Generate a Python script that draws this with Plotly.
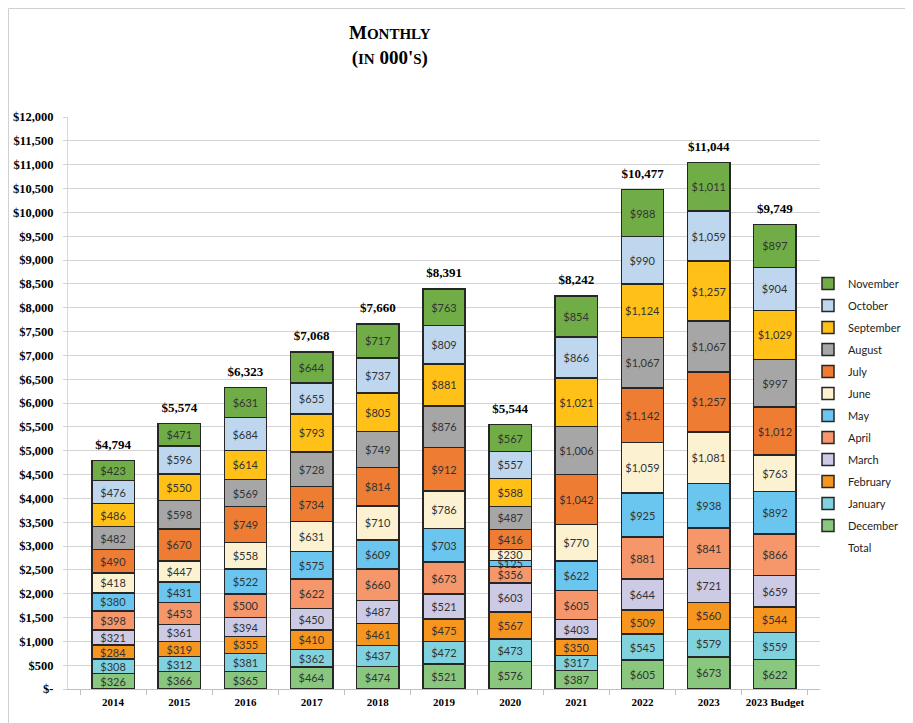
import plotly.graph_objects as go

years = ["2014", "2015", "2016", "2017", "2018", "2019", "2020", "2021", "2022", "2023", "2023 Budget"]

december = [326, 366, 365, 464, 474, 521, 576, 387, 605, 673, 622]
january = [308, 312, 381, 362, 437, 472, 473, 317, 545, 579, 559]
february = [284, 319, 355, 410, 461, 475, 567, 350, 509, 560, 544]
march = [321, 361, 394, 450, 487, 521, 603, 403, 644, 721, 659]
april = [398, 453, 500, 622, 660, 673, 356, 605, 881, 841, 866]
may = [380, 431, 522, 575, 609, 703, 125, 622, 925, 938, 892]
june = [418, 447, 558, 631, 710, 786, 230, 770, 1059, 1081, 763]
july = [490, 670, 749, 734, 814, 912, 416, 1042, 1142, 1257, 1012]
august = [482, 598, 569, 728, 749, 876, 487, 1006, 1067, 1067, 997]
september = [486, 550, 614, 793, 805, 881, 588, 1021, 1124, 1257, 1029]
october = [476, 596, 684, 655, 737, 809, 557, 866, 990, 1059, 904]
november = [423, 471, 631, 644, 717, 763, 567, 854, 988, 1011, 897]
totals = [4794, 5574, 6323, 7068, 7660, 8391, 5544, 8242, 10477, 11044, 9749]

y_ticks = list(range(0, 12001, 500))

# stacking order bottom -> top
series = [
  ("December", december, "#88C77D"),
  ("January", january, "#80D2DF"),
  ("February", february, "#F7961E"),
  ("March", march, "#CDCAE6"),
  ("April", april, "#F5976A"),
  ("May", may, "#6AC6EF"),
  ("June", june, "#FCF2D2"),
  ("July", july, "#EE7D33"),
  ("August", august, "#A6A6A6"),
  ("September", september, "#FFC018"),
  ("October", october, "#BED7EE"),
  ("November", november, "#70AD47"),
]

# figure sits 8px in from the window edge (body margin)
L, R, T, B = 60, 101, 109, 42
W, H = 913, 723
PW, PH = W - L - R, H - T - B

def px_x(x):
  return (x - L) / PW

def px_y(y):
  return (H - B - y) / PH

fig = go.Figure()
for i, (name, vals, color) in enumerate(series):
  fig.add_trace(go.Bar(
    x=years, y=vals, name=name,
    marker=dict(color=color, line=dict(color="#262626", width=1.5)),
    text=[f"${v:,}" for v in vals],
    textposition="inside", insidetextanchor="middle",
    textangle=0,
    textfont=dict(family="Lato, Open Sans, sans-serif", size=11, color="#333333"),
    constraintext="none",
    legendrank=100 - i,
    legendgroup=name,
  ))

fig.add_trace(go.Scatter(
  x=years, y=totals, name="Total", mode="markers+text",
  marker=dict(color="rgba(0,0,0,0)", size=12),
  text=[f"${v:,}" for v in totals], textposition="top center",
  textfont=dict(family="Liberation Serif, serif", size=13, color="#000000", weight="bold"),
  legendrank=200, legendgroup="Total",
  cliponaxis=False,
))

tick_text = ["$-"] + [f"${v:,}" for v in y_ticks[1:]]

fig.update_layout(
  width=W, height=H,
  margin=dict(l=L, r=R, t=T, b=B, autoexpand=False),
  barmode="stack", bargap=0.36,
  plot_bgcolor="white", paper_bgcolor="white",
  showlegend=True,
  legend=dict(
    x=px_x(800), xanchor="left", y=px_y(261), yanchor="top",
    traceorder="grouped", tracegroupgap=3,
    font=dict(family="Lato, Open Sans, sans-serif", size=11, color="#222222"),
    itemwidth=30, bgcolor="rgba(0,0,0,0)",
  ),
  xaxis=dict(
    type="category", showline=True, linecolor="#BFBFBF", linewidth=1,
    ticks="outside", tickson="boundaries", ticklen=5, tickcolor="#BFBFBF",
    tickangle=0, automargin=False, ticklabelstandoff=3,
    tickfont=dict(family="Liberation Serif, serif", size=11, color="#000000", weight="bold"),
  ),
  yaxis=dict(
    range=[0, 12000], tickvals=y_ticks, ticktext=tick_text,
    showgrid=True, gridcolor="#D3D3D3", gridwidth=1,
    showline=True, linecolor="#D9D9D9", zeroline=False,
    ticks="outside", ticklen=4, tickcolor="#D3D3D3",
    ticklabelstandoff=7, automargin=False,
    tickfont=dict(family="Liberation Serif, serif", size=12.5, color="#000000", weight="bold"),
  ),
  shapes=[dict(
    type="rect", xref="paper", yref="paper",
    x0=px_x(0.5), x1=px_x(W + 5),
    y0=px_y(H + 5), y1=px_y(0.5),
    line=dict(color="#D0D0D0", width=1), layer="below",
  )],
  annotations=[dict(
    xref="paper", yref="paper",
    x=px_x(382), y=px_y(12),
    xanchor="center", yanchor="top", showarrow=False,
    text="<b>M<span style='font-size:15px'>ONTHLY</span><br>(<span style='font-size:15px'>IN</span> 000'<span style='font-size:15px'>S</span>)</b>",
    font=dict(family="Liberation Serif, serif", size=19, color="#000000"),
    align="center",
  )],
)

fig.write_html("out.html")
